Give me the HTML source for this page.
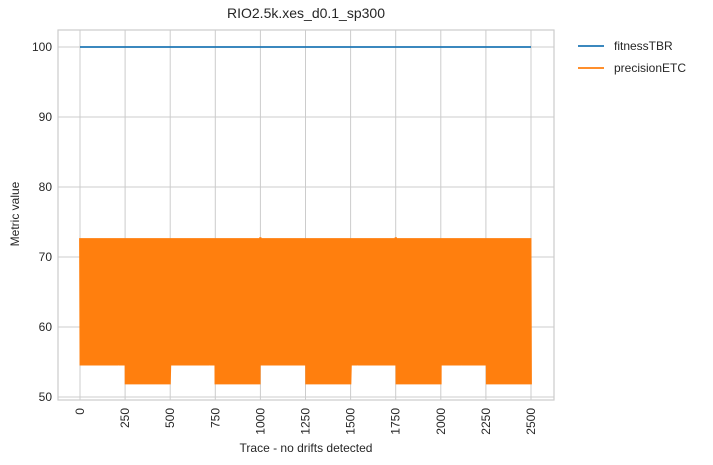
<!DOCTYPE html>
<html><head><meta charset="utf-8"><style>
body{margin:0;background:#fff;}
svg{display:block;font-family:"Liberation Sans",Arial,sans-serif;}
</style></head><body>
<svg id="c" width="713" height="465"></svg>
<script>
const xTicks=[0,250,500,750,1000,1250,1500,1750,2000,2250,2500];
const yTicks=[50,60,70,80,90,100];
const seriesNames=["fitnessTBR","precisionETC"];
const fitnessValues=[100,100];
const fitnessTraces=[0,2500];
const precisionLevels=[51.8,54.5,57.1,60,63.6,66.7,68.8,72.7];
const blockHigh="7172717161717371517172716171737161717171527172717171617171717261717171517171717161717271717171617171";
const blockLow ="7070707060707070737070707060707070707070727070707070706070707070707170707070607070707070707070607070";
const precisionCodes=[blockHigh,blockLow,blockHigh.split('').reverse().join(''),blockLow.split('').reverse().join(''),blockHigh,blockLow,blockHigh.split('').reverse().join(''),blockLow,blockHigh,blockLow].join('');
const precisionValues=precisionCodes.split('').map(c=>precisionLevels[+c]);

const NS="http://www.w3.org/2000/svg";
const svg=document.getElementById('c');
const L=58,R=554,T=30,B=400;
const xs=v=>80+(v/2500)*451;
const ys=v=>397-(v-50)*7;
function mk(t,a,p){const e=document.createElementNS(NS,t);for(const k in a)e.setAttribute(k,a[k]);(p||svg).appendChild(e);return e;}
xTicks.forEach(t=>{const g=mk('line',{x1:xs(t),x2:xs(t),y1:T,y2:B,stroke:'#cccccc','stroke-width':1});


const tx=mk('text',{x:0,y:0,'font-size':12,fill:'#262626','text-anchor':'end',transform:`translate(${xs(t)+4},${B+8}) rotate(-90)`});tx.textContent=t;

});
yTicks.forEach(t=>{const g=mk('line',{x1:L,x2:R,y1:ys(t),y2:ys(t),stroke:'#cccccc','stroke-width':1});


const tx=mk('text',{x:L-6,y:ys(t)+4,'font-size':12,fill:'#262626','text-anchor':'end'});tx.textContent=t;

});
const fr=mk('rect',{x:L,y:T,width:R-L,height:B-T,fill:'none',stroke:'#cccccc','stroke-width':1.2});


const fl=mk('polyline',{points:fitnessTraces.map((x,i)=>xs(x)+','+ys(fitnessValues[i])).join(' '),fill:'none',stroke:'#1f77b4','stroke-width':1.8});


const n=precisionValues.length;
const pl=mk('polyline',{points:precisionValues.map((v,i)=>xs(i*2500/(n-1))+','+ys(v)).join(' '),fill:'none',stroke:'#ff7f0e','stroke-width':1.8,'stroke-linejoin':'miter'});


const ti=mk('text',{x:306,y:18,'font-size':14,fill:'#262626','text-anchor':'middle'});ti.textContent='RIO2.5k.xes_d0.1_sp300';


const xl=mk('text',{x:306,y:452,'font-size':12,fill:'#262626','text-anchor':'middle'});xl.textContent='Trace - no drifts detected';


const yl=mk('text',{x:0,y:0,'font-size':12,fill:'#262626','text-anchor':'middle',transform:'translate(19,214) rotate(-90)'});yl.textContent='Metric value';


const colors=['#1f77b4','#ff7f0e'];
seriesNames.forEach((s,i)=>{const y=46+i*22;
const ln=mk('line',{x1:578,x2:604,y1:y,y2:y,stroke:colors[i],'stroke-width':1.8});


const tx=mk('text',{x:614,y:y+4,'font-size':12,fill:'#262626'});tx.textContent=s;

});
</script>
</body></html>
